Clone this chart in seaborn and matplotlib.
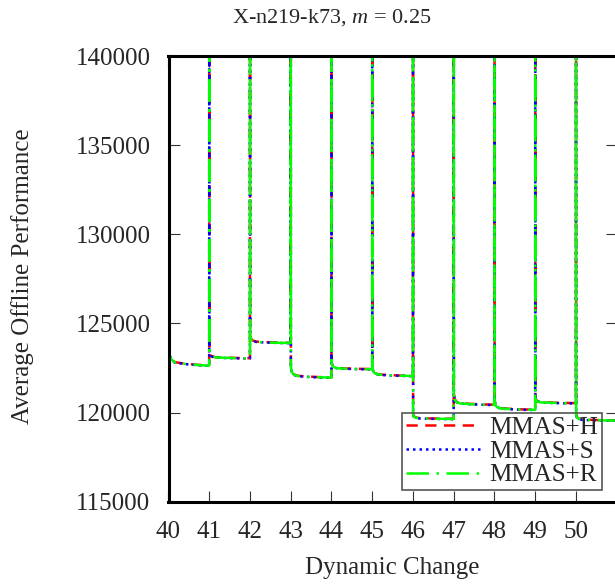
import matplotlib
matplotlib.use("Agg")
import matplotlib.pyplot as plt
import pandas as pd
import seaborn as sns

# dynamic change index where each segment begins
changes = [40, 41, 42, 43, 44, 45, 46, 47, 48, 49, 50]

# value right after the change (after the spike) and value just before the next change
start_h = [123900, 123420, 124380, 122620, 122820, 122600, 119920, 121050, 120720, 120870, 119920]
plateau_h = [122640, 123050, 123910, 121970, 122440, 122060, 119650, 120440, 120160, 120530, 119560]
start_s = [123880, 123400, 124350, 122580, 122800, 122570, 119900, 121000, 120700, 120850, 119900]
plateau_s = [122620, 123030, 123890, 121950, 122420, 122040, 119630, 120420, 120140, 120510, 119540]
start_r = [123890, 123410, 124300, 122600, 122790, 122580, 119890, 120980, 120690, 120840, 119890]
plateau_r = [122630, 123040, 123900, 121960, 122430, 122050, 119640, 120430, 120150, 120520, 119550]

# shape of the recovery inside one segment (fraction of the gap still left)
offsets = [0.003, 0.02, 0.06, 0.15, 0.4, 0.7, 0.999]
decay = [1.0, 0.55, 0.3, 0.15, 0.08, 0.03, 0.0]
spike_peak = 160000

methods = ["MMAS+H", "MMAS+S", "MMAS+R"]
series = {
    "MMAS+H": (start_h, plateau_h),
    "MMAS+S": (start_s, plateau_s),
    "MMAS+R": (start_r, plateau_r),
}

rows = []
for m in methods:
    starts, plats = series[m]
    for i, k in enumerate(changes):
        if i == 0:
            rows.append((m, k, starts[i]))
        else:
            rows.append((m, k, spike_peak))
        for off, d in zip(offsets, decay):
            rows.append((m, k + off, plats[i] + d * (starts[i] - plats[i])))
df = pd.DataFrame(rows, columns=["method", "change", "perf"])

sns.set_style("ticks")
plt.rcParams["font.family"] = ["Liberation Serif", "DejaVu Serif"]
plt.rcParams["mathtext.fontset"] = "custom"
plt.rcParams["mathtext.rm"] = "Liberation Serif"
plt.rcParams["mathtext.it"] = "Liberation Serif:italic"
plt.rcParams["font.size"] = 18

fig = plt.figure(figsize=(6.15, 5.85), dpi=100)
ax = fig.add_axes([168.5 / 615, (585 - 501.7) / 585, 448.25 / 615, (501.7 - 56) / 585])

palette = {"MMAS+H": "#ff0000", "MMAS+S": "#0000ff", "MMAS+R": "#00ff00"}
dashes = {"MMAS+H": (4.5, 3), "MMAS+S": (1, 1.6), "MMAS+R": (9, 3, 1, 3)}

sns.lineplot(data=df, x="change", y="perf", hue="method", style="method",
             hue_order=methods, style_order=methods, palette=palette,
             dashes=dashes, linewidth=1.8, sort=False, estimator=None, ax=ax)

ax.set_xlim(40, 51)
ax.set_ylim(115000, 140000)
ax.set_xticks(range(40, 51))
ax.set_yticks(range(115000, 140001, 5000))
ax.tick_params(direction="in", length=8, width=0.8, top=True, right=True,
               labelsize=18, color="#333333")
ax.tick_params(axis="x", pad=14)
ax.tick_params(axis="y", pad=13)
for sp in ax.spines.values():
    sp.set_linewidth(2.2)
    sp.set_color("black")

ax.set_xlabel("Dynamic Change", fontsize=18)
ax.set_ylabel("Average Offline Performance", fontsize=18)
ax.xaxis.set_label_coords(0.5, -0.125)
ax.yaxis.set_label_coords(-0.30, 0.505)

fig.text(332 / 615, 1 - 18 / 585, "X-n219-k73, $m$ = 0.25", ha="center", va="center", fontsize=16)

handles, labels = ax.get_legend_handles_labels()
leg = ax.legend(handles, labels, loc="upper left",
                bbox_to_anchor=(402 / 615, 1 - 412.7 / 585), bbox_transform=fig.transFigure,
                borderaxespad=0, fontsize=18, handlelength=3.0, handletextpad=0.35,
                labelspacing=0.05, borderpad=0.15, fancybox=False, framealpha=1)
leg.get_frame().set_facecolor("none")
leg.get_frame().set_edgecolor("#555555")
leg.get_frame().set_linewidth(1.2)

fig.savefig("out.png", dpi=100)
